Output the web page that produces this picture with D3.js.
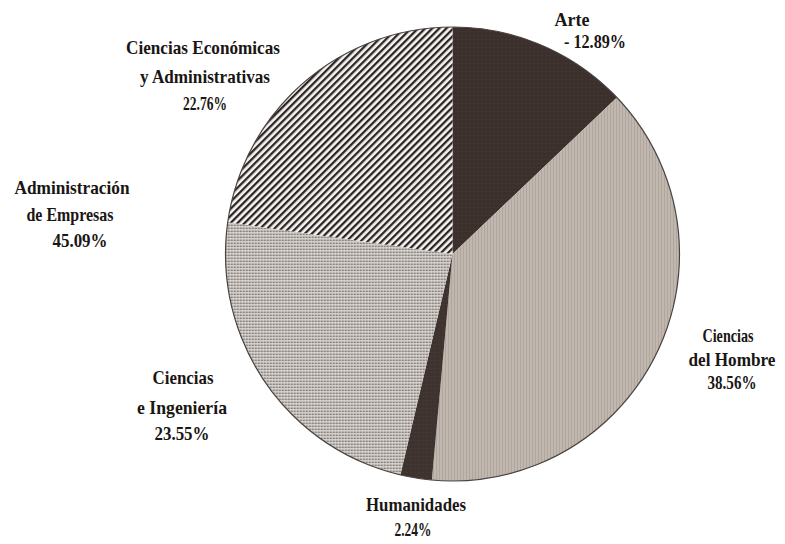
<!DOCTYPE html>
<html>
<head>
<meta charset="utf-8">
<script src="https://cdn.jsdelivr.net/npm/d3@7"></script>
<style>
  html, body { margin: 0; padding: 0; background: #ffffff; }
  svg { display: block; }
  text { font-family: "Liberation Serif", "DejaVu Serif", serif; font-weight: bold; fill: #1a1614; }
</style>
</head>
<body>
<svg id="chart" width="785" height="544"></svg>
<script>
// ---- data ----
const categories = ["Arte", "Ciencias del Hombre", "Humanidades", "Ciencias e Ingeniería", "Ciencias Económicas y Administrativas"];
const values = [12.89, 38.56, 2.24, 23.55, 22.76];
const labelLines = [
  ["Arte", "- 12.89%"],
  ["Ciencias", "del Hombre", "38.56%"],
  ["Humanidades", "2.24%"],
  ["Ciencias", "e Ingeniería", "23.55%"],
  ["Ciencias Económicas", "y Administrativas", "22.76%"]
];
const extraLabelLines = ["Administración", "de Empresas", "45.09%"];

// ---- layout / style (not data) ----
const W = 785, H = 544;
const cx = 452.5, cy = 254, R = 227;
const fills = ["url(#pArte)", "url(#pHombre)", "url(#pHum)", "url(#pIng)", "url(#pEco)"];
// label line positions: [x center, baseline y, width]
const labelLayout = [
  [[572, 26, 35], [595, 48, 62]],
  [[728, 342, 51], [732, 366, 87], [732, 389, 49]],
  [[416, 511, 100], [413, 536, 37]],
  [[183, 384, 61], [182, 414, 90], [182, 440, 55]],
  [[203, 54, 154], [205, 83, 130], [205, 110, 44]]
];
const extraLayout = [[72, 194, 115], [70, 221, 87], [80, 247, 55]];

const svg = d3.select("#chart");
const defs = svg.append("defs");

// Arte: dark brown
const pA = defs.append("pattern").attr("id", "pArte").attr("patternUnits", "userSpaceOnUse")
  .attr("width", 4).attr("height", 4);
pA.append("rect").attr("width", 4).attr("height", 4).attr("fill", "#3b302c");
pA.append("rect").attr("x", 1).attr("y", 1).attr("width", 1).attr("height", 1).attr("fill", "#4a3e39");

// Ciencias del Hombre: light taupe, fine vertical lines
const pH = defs.append("pattern").attr("id", "pHombre").attr("patternUnits", "userSpaceOnUse")
  .attr("width", 3).attr("height", 3);
pH.append("rect").attr("width", 3).attr("height", 3).attr("fill", "#b0a69e");
pH.append("rect").attr("x", 0).attr("width", 1).attr("height", 3).attr("fill", "#d0c8c0");

// Humanidades: dark
const pHu = defs.append("pattern").attr("id", "pHum").attr("patternUnits", "userSpaceOnUse")
  .attr("width", 4).attr("height", 4);
pHu.append("rect").attr("width", 4).attr("height", 4).attr("fill", "#3f3330");
pHu.append("rect").attr("x", 2).attr("y", 2).attr("width", 1).attr("height", 1).attr("fill", "#4b3f3b");

// Ciencias e Ingeniería: dot screen
const pI = defs.append("pattern").attr("id", "pIng").attr("patternUnits", "userSpaceOnUse")
  .attr("width", 3).attr("height", 3);
pI.append("rect").attr("width", 3).attr("height", 3).attr("fill", "#e0dbd6");
pI.append("rect").attr("x", 0.5).attr("y", 0.5).attr("width", 1.7).attr("height", 1.7).attr("fill", "#6f6864");

// Ciencias Económicas: diagonal hatch "/"
const pE = defs.append("pattern").attr("id", "pEco").attr("patternUnits", "userSpaceOnUse")
  .attr("width", 5).attr("height", 5).attr("patternTransform", "rotate(45)");
pE.append("rect").attr("width", 5).attr("height", 5).attr("fill", "#f7f5f3");
pE.append("rect").attr("x", 0).attr("width", 2.3).attr("height", 5).attr("fill", "#2b2624");

// ---- pie ----
const pie = d3.pie().sort(null).startAngle(0).endAngle(2 * Math.PI).value(d => d.v);
const arc = d3.arc().innerRadius(0).outerRadius(R);
const data = categories.map((c, i) => ({ c, v: values[i], i }));

const g = svg.append("g").attr("transform", `translate(${cx},${cy})`);
g.selectAll("path.slice").data(pie(data)).join("path")
  .attr("class", "slice")
  .attr("d", arc)
  .attr("fill", d => fills[d.data.i])
  .attr("stroke", "none");
g.append("circle").attr("r", R).attr("fill", "none").attr("stroke", "#4a4441").attr("stroke-width", 1.2);

// ---- labels ----
const lab = svg.append("g").attr("font-size", 19);
function addLine(t, [x, y, w]) {
  lab.append("text").attr("x", x).attr("y", y).attr("text-anchor", "middle")
    .attr("textLength", w).attr("lengthAdjust", "spacingAndGlyphs").text(t);
}
labelLines.forEach((lines, i) => lines.forEach((t, j) => addLine(t, labelLayout[i][j])));
extraLabelLines.forEach((t, j) => addLine(t, extraLayout[j]));
</script>
</body>
</html>
